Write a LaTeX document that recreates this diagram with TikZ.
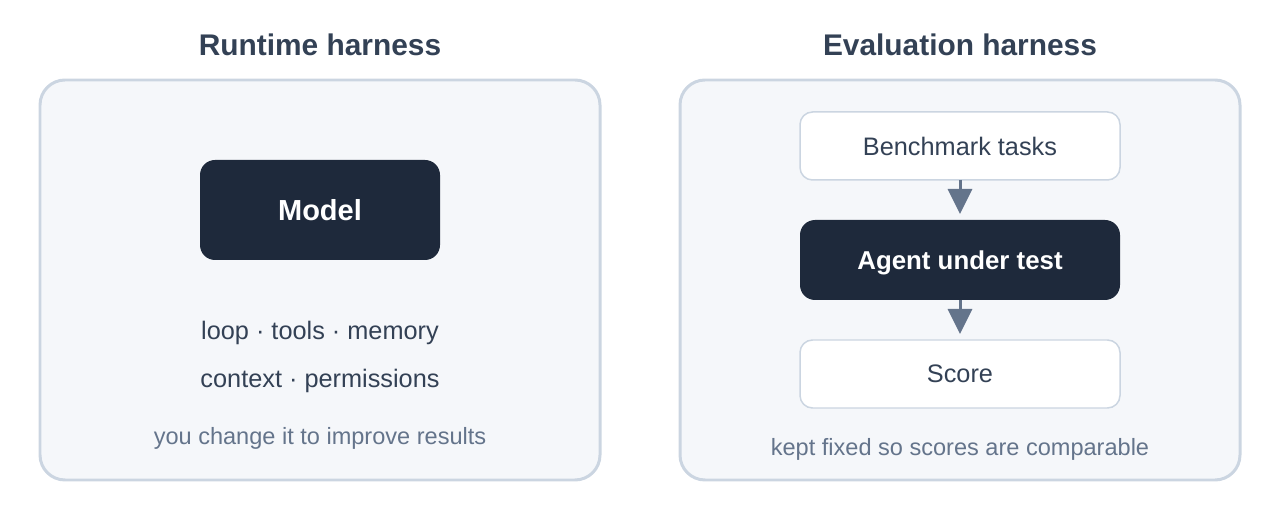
\documentclass[tikz,border=0pt]{standalone}
\usepackage{fontspec}
\setmainfont{Liberation Sans}
\usepackage{xcolor}
\usetikzlibrary{arrows.meta, positioning}
\definecolor{slatedark}{HTML}{1E293B}
\definecolor{slatetext}{HTML}{334155}
\definecolor{slatemuted}{HTML}{64748B}
\definecolor{slateline}{HTML}{CBD5E1}
\definecolor{panelfill}{HTML}{F5F7FA}

\begin{document}
\begin{tikzpicture}[
    node distance=0.8cm,
    panel/.style={
        draw=slateline,
        fill=panelfill,
        line width=1.7pt,
        minimum width=11.2cm,
        minimum height=8cm,
        rounded corners=0.5cm
    },
    title/.style={
        text=slatetext,
        font=\fontsize{17}{20}\selectfont\bfseries
    },
    darkbox/.style={
        fill=slatedark,
        text=white,
        outer sep=0pt,
        rounded corners=0.3cm,
        font=\fontsize{14.7}{18}\selectfont\bfseries
    },
    lightbox/.style={
        draw=slateline,
        fill=white,
        line width=0.85pt,
        outer sep=0pt,
        minimum width=6.4cm,
        minimum height=1.36cm,
        rounded corners=0.25cm,
        text=slatetext,
        font=\fontsize{14.4}{18}\selectfont
    },
    body/.style={
        text=slatetext,
        font=\fontsize{14.4}{18}\selectfont
    },
    note/.style={
        text=slatemuted,
        font=\fontsize{13.4}{16}\selectfont
    },
    flow/.style={
        draw=slatemuted,
        line width=1.7pt,
        -{Triangle[width=0.48cm, length=0.5cm]},
        shorten >=0.12cm
    }
]
\useasboundingbox (0,0) rectangle (25.6,-10.4);

% Panels
\node[panel] (runtime) at (6.4,-5.6) {};
\node[panel] (eval) at (19.2,-5.6) {};
\node[title] (runtimetitle) at (6.4,-0.9) {Runtime harness};
\node[title] (evaltitle) at (19.2,-0.9) {Evaluation harness};

% Runtime side
\node[darkbox, minimum width=4.8cm, minimum height=2cm,
      font=\fontsize{16.5}{20}\selectfont\bfseries] (model) at (6.4,-4.2) {Model};
\node[body] (parts) at (6.4,-6.66) {loop · tools · memory};
\node[body] (rules) at (6.4,-7.62) {context · permissions};
\node[note] (runtimenote) at (6.4,-8.76) {you change it to improve results};

% Evaluation side
\node[lightbox] (bench) at (19.2,-2.92) {Benchmark tasks};
\node[darkbox, minimum width=6.4cm, minimum height=1.6cm, text depth=0pt, below=of bench] (agent) {Agent under test};
\node[lightbox, below=of agent] (score) {Score};
\node[note] (evalnote) at (19.2,-8.98) {kept fixed so scores are comparable};

% Arrows
\draw[flow] (bench) -- (agent);
\draw[flow] (agent) -- (score);
\end{tikzpicture}
\end{document}
